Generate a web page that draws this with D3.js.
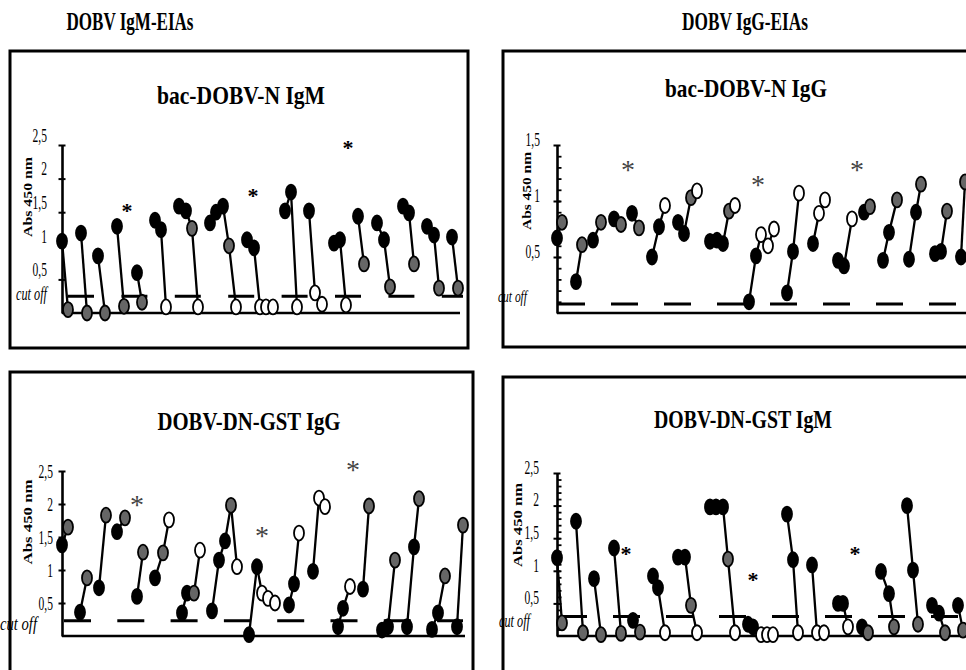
<!DOCTYPE html>
<html>
<head>
<meta charset="utf-8">
<script src="https://cdn.jsdelivr.net/npm/d3@7"></script>
<style>
body { margin: 0; background: #fff; }
svg text { font-family: "Liberation Serif", "Times New Roman", Times, serif; }
</style>
</head>
<body>
<svg id="fig" width="966" height="670"></svg>
<script>
/// Data: each series is one patient, points are [position, Abs 450 nm, fill]
/// fill: b = black, g = grey, w = open
var igmNSeries = [
    [[0, 1.07, "b"], [6, 0.05, "g"]],
    [[19, 1.19, "b"], [25, 0.0, "g"]],
    [[36, 0.85, "b"], [43, 0.0, "g"]],
    [[55, 1.29, "b"], [62, 0.1, "g"]],
    [[75, 0.6, "b"], [80, 0.16, "g"]],
    [[93, 1.38, "b"], [99, 1.24, "b"], [104, 0.09, "w"]],
    [[117, 1.59, "b"], [124, 1.52, "b"], [130, 1.26, "g"], [136, 0.09, "w"]],
    [[148, 1.34, "b"], [154, 1.5, "b"], [161, 1.59, "b"], [167, 1.0, "g"], [174, 0.09, "w"]],
    [[185, 1.09, "b"], [192, 0.97, "b"], [198, 0.09, "w"], [204, 0.09, "w"], [211, 0.09, "w"]],
    [[223, 1.52, "b"], [229, 1.8, "b"], [235, 0.09, "w"]],
    [[247, 1.52, "b"], [253, 0.3, "w"], [260, 0.13, "w"]],
    [[272, 1.04, "b"], [278, 1.09, "b"], [284, 0.12, "w"]],
    [[296, 1.44, "b"], [302, 0.73, "g"]],
    [[315, 1.34, "b"], [322, 1.09, "b"], [328, 0.39, "g"]],
    [[341, 1.59, "b"], [347, 1.49, "b"], [352, 0.73, "g"]],
    [[365, 1.29, "b"], [372, 1.16, "b"], [377, 0.37, "g"]],
    [[390, 1.13, "b"], [396, 0.37, "g"]]
];
var igmNStars = [[65, 1.6], [191, 1.82], [286, 2.53]];
var igmNCutoff = 0.25;

var iggNSeries = [
    [[0, 0.67, "b"], [5, 0.81, "g"]],
    [[19, 0.28, "b"], [25, 0.61, "g"]],
    [[36, 0.65, "b"], [44, 0.81, "g"]],
    [[57, 0.84, "b"], [64, 0.79, "g"]],
    [[75, 0.89, "b"], [82, 0.76, "g"]],
    [[95, 0.5, "b"], [102, 0.77, "b"], [108, 0.96, "w"]],
    [[121, 0.81, "b"], [127, 0.71, "b"], [134, 1.03, "g"], [140, 1.09, "w"]],
    [[153, 0.64, "b"], [160, 0.65, "b"], [166, 0.62, "b"], [172, 0.91, "g"], [178, 0.96, "w"]],
    [[192, 0.1, "b"], [199, 0.51, "b"], [204, 0.7, "w"], [211, 0.6, "w"], [217, 0.75, "w"]],
    [[230, 0.18, "b"], [236, 0.55, "b"], [242, 1.07, "w"]],
    [[256, 0.62, "b"], [262, 0.89, "w"], [268, 1.01, "w"]],
    [[281, 0.47, "b"], [287, 0.42, "b"], [295, 0.84, "w"]],
    [[307, 0.9, "b"], [313, 0.95, "g"]],
    [[326, 0.47, "b"], [332, 0.72, "b"], [340, 1.01, "g"]],
    [[352, 0.48, "b"], [359, 0.9, "b"], [364, 1.15, "g"]],
    [[378, 0.53, "b"], [384, 0.55, "b"], [390, 0.91, "g"]],
    [[404, 0.5, "b"], [408, 1.17, "g"]]
];
var iggNStars = [[71, 1.35], [201, 1.21], [300, 1.35]];
var iggNCutoff = 0.08;

var iggGstSeries = [
    [[0, 1.38, "b"], [6, 1.65, "g"]],
    [[18, 0.36, "b"], [25, 0.88, "g"]],
    [[37, 0.73, "b"], [44, 1.83, "g"]],
    [[55, 1.58, "b"], [63, 1.79, "g"]],
    [[75, 0.6, "b"], [81, 1.27, "g"]],
    [[93, 0.88, "b"], [101, 1.26, "g"], [107, 1.76, "w"]],
    [[120, 0.35, "b"], [125, 0.65, "b"], [132, 0.65, "g"], [138, 1.3, "w"]],
    [[150, 0.38, "b"], [157, 1.15, "b"], [163, 1.44, "b"], [169, 1.98, "g"], [175, 1.05, "w"]],
    [[187, 0.02, "b"], [195, 1.05, "b"], [200, 0.65, "w"], [206, 0.57, "w"], [213, 0.5, "w"]],
    [[227, 0.47, "b"], [232, 0.79, "b"], [237, 1.56, "w"]],
    [[251, 0.98, "b"], [257, 2.09, "w"], [263, 1.96, "w"]],
    [[276, 0.14, "b"], [281, 0.42, "b"], [288, 0.75, "w"]],
    [[301, 0.71, "b"], [307, 1.97, "g"]],
    [[320, 0.09, "b"], [326, 0.14, "b"], [333, 1.15, "g"]],
    [[345, 0.14, "b"], [352, 1.35, "b"], [357, 2.08, "g"]],
    [[370, 0.1, "b"], [376, 0.35, "b"], [383, 0.91, "g"]],
    [[395, 0.14, "b"], [401, 1.68, "g"]]
];
var iggGstStars = [[75, 2.11], [200, 1.64], [291, 2.64]];
var iggGstCutoff = 0.23;

var igmGstSeries = [
    [[0, 1.2, "b"], [5, 0.2, "g"]],
    [[19, 1.76, "b"], [26, 0.05, "g"]],
    [[37, 0.88, "b"], [44, 0.02, "g"]],
    [[57, 1.35, "b"], [64, 0.04, "g"]],
    [[76, 0.24, "b"], [83, 0.06, "g"]],
    [[96, 0.92, "b"], [101, 0.74, "b"], [108, 0.05, "w"]],
    [[121, 1.21, "b"], [128, 1.21, "b"], [134, 0.47, "g"], [140, 0.05, "w"]],
    [[153, 1.98, "b"], [159, 1.98, "b"], [166, 1.98, "b"], [171, 1.18, "g"], [178, 0.05, "w"]],
    [[191, 0.18, "b"], [196, 0.14, "b"], [204, 0.02, "w"], [210, 0.02, "w"], [216, 0.02, "w"]],
    [[230, 1.87, "b"], [236, 1.17, "b"], [241, 0.05, "w"]],
    [[255, 1.09, "b"], [260, 0.05, "w"], [267, 0.05, "w"]],
    [[281, 0.5, "b"], [286, 0.5, "b"], [291, 0.14, "w"]],
    [[305, 0.14, "b"], [311, 0.05, "g"]],
    [[324, 0.99, "b"], [332, 0.65, "b"], [337, 0.14, "g"]],
    [[350, 2.0, "b"], [356, 1.01, "b"], [361, 0.18, "g"]],
    [[375, 0.47, "b"], [382, 0.35, "b"], [388, 0.05, "g"]],
    [[401, 0.47, "b"], [406, 0.09, "g"]]
];
var igmGstStars = [[69, 1.33], [196, 0.94], [298, 1.33]];
var igmGstCutoff = 0.3;

/// Tick values and labels
var ticks25 = [0.5, 1, 1.5, 2, 2.5];
var ticks15 = [0.5, 1, 1.5];
var tickLabels = { 0.5: "0,5", 1: "1", 1.5: "1,5", 2: "2", 2.5: "2,5" };
var groupTitles = ["DOBV IgM-EIAs", "DOBV IgG-EIAs"];
var yTitle = "Abs 450 nm";
var cutLabel = "cut off";

var fills = { b: "#000", g: "#666", w: "#fff" };
var serif = "Liberation Serif, Times New Roman, Times, serif";

var svg = d3.select("#fig");

function fitWidth(sel, w) {
    sel.attr("textLength", w).attr("lengthAdjust", "spacingAndGlyphs");
}
function squeeze(sel, k) {
    sel.each(function() {
        var w = this.getComputedTextLength();
        d3.select(this).attr("textLength", w * k).attr("lengthAdjust", "spacingAndGlyphs");
    });
}

/// Group titles
svg.append("text").attr("x", 130).attr("y", 30).attr("text-anchor", "middle")
    .attr("font-size", 25).attr("font-weight", "bold").text(groupTitles[0]).call(fitWidth, 127);
svg.append("text").attr("x", 745).attr("y", 30).attr("text-anchor", "middle")
    .attr("font-size", 25).attr("font-weight", "bold").text(groupTitles[1]).call(fitWidth, 126);

var panels = [
    { title: "bac-DOBV-N IgM", series: igmNSeries, stars: igmNStars, cutoff: igmNCutoff,
      box: [10, 51, 458, 297], titlePos: [241, 104, 168], axisX: 62, y0: 313, y1: 145, yMax: 2.5,
      ticks: ticks25, minor: false, xEnd: 460, cutStart: 6, cutEnd: 463, dash: "26,27.4",
      labelRight: 47, labelDy: -10, cutDy: -2, cutRight: 47, cutSize: 18, cutW: 31,
      yt: [27, 197, 80], starBold: true },
    { title: "bac-DOBV-N IgG", series: iggNSeries, stars: iggNStars, cutoff: iggNCutoff,
      box: [503, 51, 480, 296], titlePos: [746, 97, 162], axisX: 557, y0: 313, y1: 145, yMax: 1.5,
      ticks: ticks15, minor: true, xEnd: 970, cutStart: 1, cutEnd: 970, dash: "27,26",
      labelRight: 540, labelDy: -6, cutDy: -7, cutRight: 527, cutSize: 17, cutW: 29,
      yt: [526, 191, 78], starBold: false },
    { title: "DOBV-DN-GST IgG", series: iggGstSeries, stars: iggGstStars, cutoff: iggGstCutoff,
      box: [10, 372, 463, 320], titlePos: [249, 430, 183], axisX: 62, y0: 636, y1: 471, yMax: 2.5,
      ticks: ticks25, minor: false, xEnd: 465, cutStart: 2, cutEnd: 463, dash: "27,26.3",
      labelRight: 53, labelDy: 0, cutDy: 3, cutRight: 37, cutSize: 19, cutW: 37,
      yt: [27, 522, 85], starBold: false },
    { title: "DOBV-DN-GST IgM", series: igmGstSeries, stars: igmGstStars, cutoff: igmGstCutoff,
      box: [503, 377, 480, 320], titlePos: [743, 428, 178], axisX: 557, y0: 636, y1: 473, yMax: 2.5,
      ticks: ticks25, minor: true, xEnd: 970, cutStart: 3, cutEnd: 970, dash: "27,26",
      labelRight: 539, labelDy: -6, cutDy: 5, cutRight: 530, cutSize: 18, cutW: 31,
      yt: [517, 525, 84], starBold: true }
];

panels.forEach(drawPanel);

function drawPanel(p) {
    var g = svg.append("g");

    g.append("rect")
        .attr("x", p.box[0]).attr("y", p.box[1])
        .attr("width", p.box[2]).attr("height", p.box[3])
        .attr("fill", "none").attr("stroke", "#000").attr("stroke-width", 3);

    var x = d3.scaleLinear().domain([0, 400]).range([p.axisX, p.axisX + 400]);
    var y = d3.scaleLinear().domain([0, p.yMax]).range([p.y0, p.y1]);

    g.append("text")
        .attr("x", p.titlePos[0]).attr("y", p.titlePos[1])
        .attr("text-anchor", "middle").attr("font-size", 26).attr("font-weight", "bold")
        .text(p.title).call(fitWidth, p.titlePos[2]);

    /// x baseline
    g.append("line")
        .attr("x1", p.axisX).attr("x2", p.xEnd)
        .attr("y1", y(0)).attr("y2", y(0))
        .attr("stroke", "#000").attr("stroke-width", 2.6);

    /// cut off
    g.append("line")
        .attr("x1", x(p.cutStart)).attr("x2", p.cutEnd)
        .attr("y1", y(p.cutoff)).attr("y2", y(p.cutoff))
        .attr("stroke", "#000").attr("stroke-width", 3)
        .attr("stroke-dasharray", p.dash);

    /// y axis
    var yAxis = g.append("g")
        .attr("transform", `translate(${p.axisX},0)`)
        .call(d3.axisLeft(y).tickValues(p.ticks).tickSizeOuter(0).tickSizeInner(4)
            .tickFormat(d => tickLabels[d]));
    yAxis.select(".domain").attr("stroke", "#000").attr("stroke-width", 2.6);
    yAxis.selectAll(".tick line").attr("x1", -3.5).attr("x2", 3.5).attr("stroke-width", 2);
    yAxis.selectAll(".tick text")
        .attr("x", p.labelRight - p.axisX).attr("dy", "0.35em")
        .attr("transform", `translate(0,${p.labelDy})`)
        .attr("font-family", serif)
        .attr("font-size", 18).attr("fill", "#000")
        .call(squeeze, 0.64);

    if (p.minor) {
        var minorTicks = d3.range(1, p.yMax * 10).map(i => i / 10);
        var mAxis = g.append("g")
            .attr("transform", `translate(${p.axisX},0)`)
            .call(d3.axisRight(y).tickValues(minorTicks).tickSizeOuter(0).tickSizeInner(4.5)
                .tickFormat(""));
        mAxis.select(".domain").remove();
        mAxis.selectAll(".tick line").attr("stroke-width", 1.8);
    }

    g.append("text")
        .attr("x", p.cutRight).attr("y", y(p.cutoff) + p.cutDy)
        .attr("dy", "0.3em").attr("text-anchor", "end")
        .attr("font-style", "italic").attr("font-size", p.cutSize)
        .text(cutLabel).call(fitWidth, p.cutW);

    g.append("text")
        .attr("transform", `translate(${p.yt[0]},${p.yt[1]}) rotate(-90)`)
        .attr("text-anchor", "middle").attr("dy", "0.35em")
        .attr("font-size", 13).attr("font-weight", "bold")
        .text(yTitle).call(fitWidth, p.yt[2]);

    /// series lines
    var line = d3.line().x(d => x(d[0])).y(d => y(d[1]));
    g.selectAll("path.series")
        .data(p.series)
        .enter()
        .append("path")
        .attr("class", "series")
        .attr("d", line)
        .attr("fill", "none").attr("stroke", "#000").attr("stroke-width", 2.3);

    /// points
    g.selectAll("ellipse")
        .data(p.series.flat())
        .enter()
        .append("ellipse")
        .attr("cx", d => x(d[0]))
        .attr("cy", d => y(d[1]))
        .attr("rx", 5).attr("ry", 7.5)
        .attr("fill", d => fills[d[2]])
        .attr("stroke", "#000").attr("stroke-width", 1.8);

    /// significance marks
    g.selectAll("text.star")
        .data(p.stars)
        .enter()
        .append("text")
        .attr("class", "star")
        .attr("x", d => x(d[0])).attr("y", d => y(d[1]))
        .attr("text-anchor", "middle")
        .attr("dy", p.starBold ? "0.55em" : "0.6em")
        .attr("font-size", p.starBold ? 22 : 28)
        .attr("font-weight", p.starBold ? "bold" : "normal")
        .attr("fill", p.starBold ? "#000" : "#444")
        .text("*");
}
</script>
</body>
</html>
